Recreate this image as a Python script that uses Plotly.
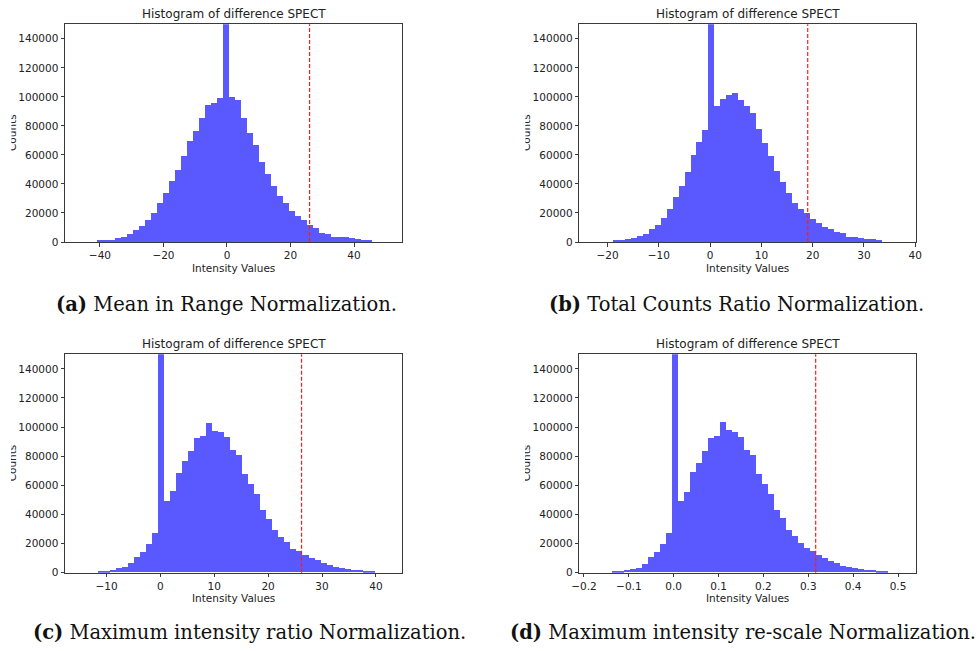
import plotly.graph_objects as go

W, H = 979, 651

# ---------------- data ----------------
panel_title = "Histogram of difference SPECT"
x_label = "Intensity Values"
y_label = "Counts"
caption_tags = ["(a)", "(b)", "(c)", "(d)"]
caption_texts = [
    "Mean in Range Normalization.",
    "Total Counts Ratio Normalization.",
    "Maximum intensity ratio Normalization.",
    "Maximum intensity re-scale Normalization.",
]

SPIKE = 400000  # zero-difference bin, clipped by the y limit

a_bin_start, a_bin_width = -40.99, 1.887
a_counts = [800, 1000, 1400, 2300, 3400, 5300, 7800, 11000, 14700, 19500, 27000,
            33500, 41500, 49700, 58900, 69200, 76100, 85200, 94000, 95300, 98800,
            SPIKE,
            99700, 97600, 85200, 74700, 66900, 55200, 46500, 38700, 31200, 27000,
            21100, 17900, 14700, 11200, 9200, 6000, 5300, 3400, 3200, 3000, 2300,
            2000, 1400, 900]
a_threshold = 26.0

b_bin_start, b_bin_width = -18.96, 1.169
b_counts = [500, 900, 1800, 2300, 3700, 5500, 8900, 11700, 16000, 22200, 30500,
            38700, 47900, 59600, 68500, 76800,
            SPIKE,
            93300, 98100, 100800, 102200, 97600, 93300, 88500, 77700, 67800, 59100,
            49000, 40800, 33500, 27000, 22200, 19500, 15400, 12600, 10300, 8500,
            6400, 5700, 3400, 3000, 2500, 2100, 1600, 900]
b_threshold = 19.03

c_bin_start, c_bin_width = -11.52, 1.1146
c_counts = [700, 1100, 1800, 2700, 3900, 6200, 10300, 13900, 19400, 26900,
            SPIKE,
            49100, 55900, 68300, 76500, 83400, 92500, 93900, 102900, 97400, 96500,
            93200, 84300, 80600, 67600, 60500, 53900, 42900, 37000, 29000, 24000,
            20600, 16400, 14400, 11900, 9800, 8200, 6400, 4800, 3700, 2700, 2300,
            1800, 1600, 900, 700]
c_threshold = 26.2

d_bin_start, d_bin_width = -0.136, 0.01337
d_counts = [500, 900, 1600, 2500, 3000, 5900, 10500, 13900, 19400, 27200,
            SPIKE,
            49100, 55500, 69200, 75100, 83400, 92200, 93900, 103000, 97500, 96400,
            93200, 84300, 80600, 67800, 60600, 53900, 42900, 37700, 28800, 24800,
            20200, 16600, 14800, 11900, 9700, 8100, 6300, 4700, 3600, 2900, 2200,
            1900, 1500, 1000, 700]
d_threshold = 0.3165

x_ranges = [[-51.0, 55.2], [-25.5, 40.2], [-17.7, 44.9], [-0.2104, 0.5408]]
x_dticks = [20, 10, 10, 0.1]
x_formats = ["d", "d", "d", ".1f"]
y_range = [0, 150000]
y_dtick = 20000

# ---------------- layout geometry (pixels) ----------------
panels_px = [  # left, right, top, bottom
    (65.0, 402.3, 24.3, 242.0),
    (579.3, 916.3, 24.3, 242.0),
    (65.0, 402.3, 354.3, 572.7),
    (579.3, 916.3, 354.3, 572.7),
]
caption_px = [(226, 305), (736, 305), (250, 632), (743, 632)]

BAR = "rgb(89,89,255)"
AX = "#3a3a3a"
TXT = "#222222"
SANS = "DejaVu Sans"

def px(x):
    return x / W

def py(y):
    return 1 - y / H

fig = go.Figure()

datasets = [
    (a_bin_start, a_bin_width, a_counts, a_threshold),
    (b_bin_start, b_bin_width, b_counts, b_threshold),
    (c_bin_start, c_bin_width, c_counts, c_threshold),
    (d_bin_start, d_bin_width, d_counts, d_threshold),
]

annotations = []
shapes = []
layout_axes = {}

for i, (start, width, counts, thr) in enumerate(datasets):
    n = i + 1
    xa = "x" if n == 1 else f"x{n}"
    ya = "y" if n == 1 else f"y{n}"
    centers = [start + width * (k + 0.5) for k in range(len(counts))]
    fig.add_trace(go.Bar(
        x=centers, y=counts, width=width,
        marker=dict(color=BAR, line=dict(width=0)),
        xaxis=xa, yaxis=ya, showlegend=False, hoverinfo="x+y",
    ))
    l, r, t, b = panels_px[i]
    xkey = "xaxis" if n == 1 else f"xaxis{n}"
    ykey = "yaxis" if n == 1 else f"yaxis{n}"
    layout_axes[xkey] = dict(
        domain=[px(l), px(r)], anchor=ya, range=x_ranges[i], automargin=False,
        tick0=0, dtick=x_dticks[i], tickformat=x_formats[i],
        showgrid=False, zeroline=False, showline=True, mirror=True,
        linecolor=AX, linewidth=1, ticks="outside", ticklen=3.5,
        tickwidth=0.8, tickcolor=AX,
        tickfont=dict(family=SANS, size=10.5, color=TXT),
    )
    layout_axes[ykey] = dict(
        domain=[py(b), py(t)], anchor=xa, range=y_range, automargin=False,
        tick0=0, dtick=y_dtick, tickformat="d",
        showgrid=False, zeroline=False, showline=True, mirror=True,
        linecolor=AX, linewidth=1, ticks="outside", ticklen=3.5,
        tickwidth=0.8, tickcolor=AX,
        tickfont=dict(family=SANS, size=10.5, color=TXT),
    )
    # threshold line
    shapes.append(dict(
        type="line", xref=xa, yref=f"{ya} domain", x0=thr, x1=thr, y0=0, y1=1,
        layer="above",
        line=dict(color="#ff1a1a", width=1.2, dash="4px,2px"),
    ))
    # panel title
    annotations.append(dict(
        text=panel_title, xref="paper", yref="paper",
        x=px((l + r) / 2), y=py(t - 10.5), xanchor="center", yanchor="middle",
        showarrow=False, font=dict(family=SANS, size=12, color=TXT),
    ))
    # x-axis label
    annotations.append(dict(
        text=x_label, xref="paper", yref="paper",
        x=px((l + r) / 2), y=py(b + 25.5), xanchor="center", yanchor="middle",
        showarrow=False, font=dict(family=SANS, size=10.5, color=TXT),
    ))
    # y-axis label, cut by the sub-figure boundary in the original:
    # the fixed-height text box clips the top part of the rotated glyphs
    clip_x = 11 if l < 300 else 525
    annotations.append(dict(
        text=y_label, xref="paper", yref="paper", textangle=-90,
        x=px(clip_x), y=py((t + b) / 2), xanchor="left", yanchor="middle",
        width=44, height=7, valign="bottom", borderpad=0, borderwidth=0,
        showarrow=False, font=dict(family=SANS, size=10.5, color=TXT),
    ))
    # caption
    cx, cy = caption_px[i]
    annotations.append(dict(
        text=f"<b>{caption_tags[i]}</b> {caption_texts[i]}",
        xref="paper", yref="paper", x=px(cx), y=py(cy),
        xanchor="center", yanchor="middle", showarrow=False,
        font=dict(family="DejaVu Serif", size=19.5, color="#111111"),
    ))

fig.update_layout(
    width=W, height=H,
    margin=dict(l=0, r=0, t=0, b=0, pad=0, autoexpand=False),
    paper_bgcolor="white", plot_bgcolor="white",
    bargap=0, barmode="overlay",
    annotations=annotations, shapes=shapes,
    **layout_axes,
)

fig.write_html(
    "out.html",
    config={"displayModeBar": False},
    post_script="document.body.style.margin='0px';document.body.style.overflow='hidden';",
)
